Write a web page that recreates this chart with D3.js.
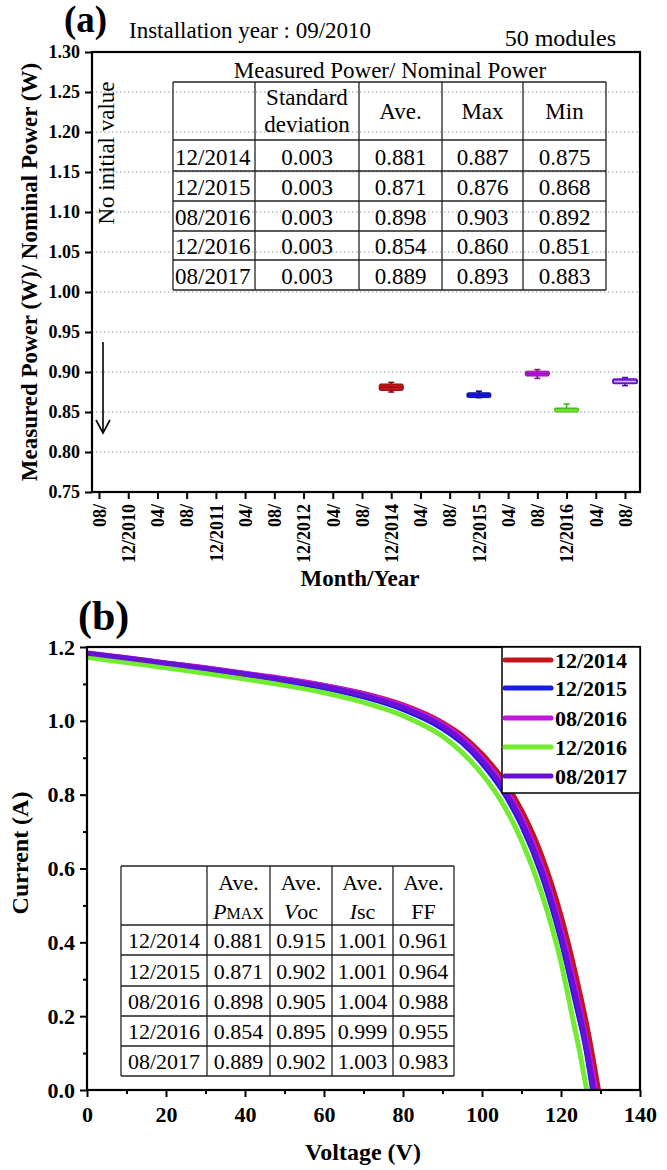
<!DOCTYPE html>
<meta charset="utf-8">
<style>
  body { margin: 0; background: #fff; }
  text { font-family: "Liberation Serif", "Times New Roman", Times, "DejaVu Serif", serif; fill: #000; }
  .tick text { font-weight: bold; }
</style>
<body>
<div id="chart"></div>
<script src="https://d3js.org/d3.v7.min.js"></script>
<script>

// ---------- panel (a) data ----------
var monthTicks = ["08/", "12/2010", "04/", "08/", "12/2011", "04/", "08/", "12/2012", "04/", "08/",
                  "12/2014", "04/", "08/", "12/2015", "04/", "08/", "12/2016", "04/", "08/"];
var powerTicks = [0.75, 0.80, 0.85, 0.90, 0.95, 1.00, 1.05, 1.10, 1.15, 1.20, 1.25, 1.30];
var surveyDates = ["12/2014", "12/2015", "08/2016", "12/2016", "08/2017"];
var surveyTick = [10, 13, 15, 16, 18];
var stdDev   = [0.003, 0.003, 0.003, 0.003, 0.003];
var avePower = [0.881, 0.871, 0.898, 0.854, 0.889];
var maxPower = [0.887, 0.876, 0.903, 0.860, 0.893];
var minPower = [0.875, 0.868, 0.892, 0.851, 0.883];
var boxLow   = [0.877, 0.868, 0.895, 0.850, 0.886];
var boxHigh  = [0.885, 0.874, 0.901, 0.855, 0.891];

// ---------- panel (b) data ----------
var voltTicks = [0, 20, 40, 60, 80, 100, 120, 140];
var currTicks = [0.0, 0.2, 0.4, 0.6, 0.8, 1.0, 1.2];
var iv2014_12 = [[0,1.182],[10,1.169],[20,1.156],[30,1.143],[40,1.128],[50,1.113],[60,1.096],[70,1.074],[80,1.043],[90,0.995],[95,0.960],[100,0.910],[105,0.846],[110,0.758],[115,0.638],[120,0.472],[124,0.300],[127,0.150],[129.5,0]];
var iv2015_12 = [[0,1.180],[10,1.167],[20,1.153],[30,1.139],[40,1.124],[50,1.108],[60,1.089],[70,1.065],[80,1.031],[90,0.979],[95,0.940],[100,0.885],[105,0.814],[110,0.717],[115,0.585],[120,0.405],[124,0.222],[126,0.128],[128,0]];
var iv2016_08 = [[0,1.184],[10,1.171],[20,1.157],[30,1.144],[40,1.129],[50,1.114],[60,1.096],[70,1.073],[80,1.041],[90,0.991],[95,0.953],[100,0.900],[105,0.832],[110,0.739],[115,0.612],[120,0.438],[124,0.260],[127,0.105],[128.8,0]];
var iv2016_12 = [[0,1.172],[10,1.158],[20,1.144],[30,1.129],[40,1.113],[50,1.096],[60,1.076],[70,1.050],[80,1.014],[90,0.958],[95,0.914],[100,0.856],[105,0.780],[110,0.676],[115,0.536],[120,0.346],[123,0.192],[125,0.088],[126.5,0]];
var iv2017_08 = [[0,1.183],[10,1.170],[20,1.156],[30,1.142],[40,1.127],[50,1.111],[60,1.093],[70,1.069],[80,1.036],[90,0.985],[95,0.946],[100,0.892],[105,0.823],[110,0.728],[115,0.598],[120,0.421],[124,0.240],[126,0.143],[128.3,0]];
var ivCurves = [iv2014_12, iv2015_12, iv2016_08, iv2016_12, iv2017_08];
var avePmax = ["0.881", "0.871", "0.898", "0.854", "0.889"];
var aveVoc  = ["0.915", "0.902", "0.905", "0.895", "0.902"];
var aveIsc  = ["1.001", "1.001", "1.004", "0.999", "1.003"];
var aveFF   = ["0.961", "0.964", "0.988", "0.955", "0.983"];

var colors   = ["#c4141c", "#1a1ae2", "#c414e0", "#72ec30", "#6812d8"];
var boxEdges = ["#8c0c10", "#0c0c9a", "#8a0c9e", "#46b018", "#4a0aa0"];

var svg = d3.select("#chart").append("svg")
    .attr("width", 667).attr("height", 1170);

function tableGrid(g, xs, ys) {
    xs.forEach(function (x) {
        g.append("line").attr("x1", x).attr("x2", x).attr("y1", ys[0]).attr("y2", ys[ys.length - 1]);
    });
    ys.forEach(function (y) {
        g.append("line").attr("x1", xs[0]).attr("x2", xs[xs.length - 1]).attr("y1", y).attr("y2", y);
    });
    g.selectAll("line").attr("stroke", "#222").attr("stroke-width", 1.3);
}

// =============== panel (a) ===============
var pa = {left: 92, right: 640, top: 52, bottom: 492};
var xa = d3.scalePoint().domain(d3.range(monthTicks.length)).range([99, 625]);
var ya = d3.scaleLinear().domain([0.75, 1.30]).range([pa.bottom, pa.top]);

var ga = svg.append("g");

// dotted grid
ga.append("g").selectAll("line")
  .data(powerTicks.filter(function (d) { return d > 0.76 && d < 1.29; }))
  .enter().append("line")
  .attr("x1", pa.left).attr("x2", pa.right)
  .attr("y1", function (d) { return ya(d); }).attr("y2", function (d) { return ya(d); })
  .attr("stroke", "#9a9a9a").attr("stroke-width", 1).attr("stroke-dasharray", "1.5,2.5");

ga.append("g")
  .attr("transform", "translate(" + pa.left + ",0)")
  .call(d3.axisLeft(ya).tickValues(powerTicks).tickFormat(d3.format(".2f")).tickSizeInner(7).tickSizeOuter(0).tickPadding(5))
  .call(function (g) { g.select(".domain").remove(); })
  .call(function (g) { g.selectAll(".tick line").attr("stroke-width", 2); })
  .call(function (g) { g.selectAll("text").attr("font-size", 18); });

ga.append("g")
  .attr("transform", "translate(0," + pa.bottom + ")")
  .call(d3.axisBottom(xa).tickFormat(function (i) { return monthTicks[i]; }).tickSizeInner(7).tickSizeOuter(0))
  .call(function (g) { g.select(".domain").remove(); })
  .call(function (g) { g.selectAll(".tick line").attr("stroke-width", 2); })
  .call(function (g) {
      g.selectAll("text")
       .attr("font-size", 18)
       .attr("transform", "rotate(-90)")
       .attr("text-anchor", "end")
       .attr("x", -12).attr("y", 0).attr("dy", "0.35em");
  });

ga.append("rect")
  .attr("x", pa.left).attr("y", pa.top)
  .attr("width", pa.right - pa.left).attr("height", pa.bottom - pa.top)
  .attr("fill", "none").attr("stroke", "#000").attr("stroke-width", 2.2);

// box plots
var boxData = surveyDates.map(function (d, i) {
    return {date: d, tick: surveyTick[i], ave: avePower[i], max: maxPower[i], min: minPower[i],
            lo: boxLow[i], hi: boxHigh[i], color: colors[i], edge: boxEdges[i], hollow: i === 4};
});
var boxes = ga.append("g").selectAll("g").data(boxData).enter().append("g")
  .attr("transform", function (d) { return "translate(" + xa(d.tick) + ",0)"; });
boxes.append("line")
  .attr("y1", function (d) { return ya(d.max); }).attr("y2", function (d) { return ya(d.min); })
  .attr("stroke", function (d) { return d.edge; }).attr("stroke-width", 1.6);
boxes.append("line").attr("x1", -3).attr("x2", 3)
  .attr("y1", function (d) { return ya(d.max); }).attr("y2", function (d) { return ya(d.max); })
  .attr("stroke", function (d) { return d.edge; }).attr("stroke-width", 1.6);
boxes.append("line").attr("x1", -3).attr("x2", 3)
  .attr("y1", function (d) { return ya(d.min); }).attr("y2", function (d) { return ya(d.min); })
  .attr("stroke", function (d) { return d.edge; }).attr("stroke-width", 1.6);
boxes.append("rect")
  .attr("x", -12).attr("width", 24)
  .attr("y", function (d) { return ya(d.hi); })
  .attr("height", function (d) { return ya(d.lo) - ya(d.hi); })
  .attr("rx", 1.5)
  .attr("fill", function (d) { return d.hollow ? "#fff" : d.color; })
  .attr("stroke", function (d) { return d.hollow ? d.color : d.edge; })
  .attr("stroke-width", function (d) { return d.hollow ? 2 : 1; });
boxes.append("line").attr("x1", -12).attr("x2", 12)
  .attr("y1", function (d) { return ya(d.ave); }).attr("y2", function (d) { return ya(d.ave); })
  .attr("stroke", function (d) { return d.hollow ? d.color : d.edge; }).attr("stroke-width", 1);

// titles
svg.append("text").attr("x", 64).attr("y", 32).attr("font-size", 37).attr("font-weight", "bold").text("(a)");
svg.append("text").attr("x", 129).attr("y", 38).attr("font-size", 23).text("Installation year : 09/2010");
svg.append("text").attr("x", 616).attr("y", 46).attr("font-size", 24).attr("text-anchor", "end").text("50 modules");
svg.append("text").attr("x", 360).attr("y", 586).attr("font-size", 23).attr("font-weight", "bold")
   .attr("text-anchor", "middle").text("Month/Year");
svg.append("text").attr("transform", "translate(37,272) rotate(-90)").attr("font-size", 23)
   .attr("font-weight", "bold").attr("text-anchor", "middle").text("Measured Power (W)/ Nominal Power (W)");

// no initial value + arrow
svg.append("text").attr("transform", "translate(114,153) rotate(-90)").attr("font-size", 23)
   .attr("text-anchor", "middle").text("No initial value");
svg.append("line").attr("x1", 103).attr("x2", 103).attr("y1", 342).attr("y2", 432)
   .attr("stroke", "#000").attr("stroke-width", 1.6);
svg.append("path").attr("d", "M96,420 L103,433 L110,420")
   .attr("fill", "none").attr("stroke", "#000").attr("stroke-width", 1.6);

// table (a)
var taX = [173, 255, 359, 442, 523, 606];
var taY = [82, 140, 171, 201, 231, 260, 290];
var ta = svg.append("g");
tableGrid(ta, taX, taY);
ta.append("text").attr("x", 390).attr("y", 78).attr("font-size", 23).attr("text-anchor", "middle")
  .text("Measured Power/ Nominal Power");
var taHead = [["Standard", "deviation"], ["Ave."], ["Max"], ["Min"]];
taHead.forEach(function (h, c) {
    var cx = (taX[c + 1] + taX[c + 2]) / 2;
    if (h.length === 2) {
        ta.append("text").attr("x", cx).attr("y", 105).attr("font-size", 23).attr("text-anchor", "middle").text(h[0]);
        ta.append("text").attr("x", cx).attr("y", 132).attr("font-size", 23).attr("text-anchor", "middle").text(h[1]);
    } else {
        ta.append("text").attr("x", cx).attr("y", 119).attr("font-size", 23).attr("text-anchor", "middle").text(h[0]);
    }
});
surveyDates.forEach(function (d, r) {
    var cells = [d, stdDev[r].toFixed(3), avePower[r].toFixed(3), maxPower[r].toFixed(3), minPower[r].toFixed(3)];
    cells.forEach(function (v, c) {
        ta.append("text")
          .attr("x", c === 0 ? taX[0] + 2 : (taX[c] + taX[c + 1]) / 2)
          .attr("y", taY[r + 2] - 6)
          .attr("font-size", 23)
          .attr("text-anchor", c === 0 ? "start" : "middle")
          .text(v);
    });
});

// =============== panel (b) ===============
var pb = {left: 87, right: 640, top: 647, bottom: 1090};
var xb = d3.scaleLinear().domain([0, 140]).range([pb.left, pb.right]);
var yb = d3.scaleLinear().domain([0, 1.2]).range([pb.bottom, pb.top]);
var gb = svg.append("g");

gb.append("g").attr("transform", "translate(0," + pb.bottom + ")")
  .call(d3.axisBottom(xb).tickValues(d3.range(10, 140, 20)).tickFormat("").tickSizeInner(4).tickSizeOuter(0))
  .call(function (g) { g.select(".domain").remove(); g.selectAll("line").attr("stroke-width", 2); });
gb.append("g").attr("transform", "translate(0," + pb.bottom + ")")
  .call(d3.axisBottom(xb).tickValues(voltTicks).tickFormat(d3.format("d")).tickSizeInner(7).tickSizeOuter(0))
  .call(function (g) {
      g.select(".domain").remove();
      g.selectAll("line").attr("stroke-width", 2);
      g.selectAll("text").attr("font-size", 22).attr("y", 32).attr("dy", 0);
  });
gb.append("g").attr("transform", "translate(" + pb.left + ",0)")
  .call(d3.axisLeft(yb).tickValues([0.1, 0.3, 0.5, 0.7, 0.9, 1.1]).tickFormat("").tickSizeInner(4).tickSizeOuter(0))
  .call(function (g) { g.select(".domain").remove(); g.selectAll("line").attr("stroke-width", 2); });
gb.append("g").attr("transform", "translate(" + pb.left + ",0)")
  .call(d3.axisLeft(yb).tickValues(currTicks).tickFormat(d3.format(".1f")).tickSizeInner(7).tickSizeOuter(0).tickPadding(5))
  .call(function (g) {
      g.select(".domain").remove();
      g.selectAll("line").attr("stroke-width", 2);
      g.selectAll("text").attr("font-size", 22);
  });

var line = d3.line()
  .x(function (d) { return xb(d[0]); })
  .y(function (d) { return yb(d[1]); })
  .curve(d3.curveMonotoneX);
gb.append("g").selectAll("path").data(ivCurves).enter().append("path")
  .attr("d", line)
  .attr("fill", "none")
  .attr("stroke", function (d, i) { return colors[i]; })
  .attr("stroke-width", 5);

gb.append("rect")
  .attr("x", pb.left).attr("y", pb.top)
  .attr("width", pb.right - pb.left).attr("height", pb.bottom - pb.top)
  .attr("fill", "none").attr("stroke", "#000").attr("stroke-width", 2.2);

// legend
var legY = [660, 688, 718, 747, 776];
var leg = gb.append("g");
leg.append("rect").attr("x", 502).attr("y", pb.top).attr("width", pb.right - 502).attr("height", 146)
   .attr("fill", "#fff").attr("stroke", "#000").attr("stroke-width", 1.5);
surveyDates.forEach(function (d, i) {
    leg.append("line").attr("x1", 505).attr("x2", 551).attr("y1", legY[i]).attr("y2", legY[i])
       .attr("stroke", colors[i]).attr("stroke-width", 5).attr("stroke-linecap", "round");
    leg.append("text").attr("x", 555).attr("y", legY[i] + 8).attr("font-size", 22)
       .attr("font-weight", "bold").text(d);
});

svg.append("text").attr("x", 78).attr("y", 630).attr("font-size", 42).attr("font-weight", "bold").text("(b)");
svg.append("text").attr("x", 363).attr("y", 1160).attr("font-size", 24).attr("font-weight", "bold")
   .attr("text-anchor", "middle").text("Voltage (V)");
svg.append("text").attr("transform", "translate(28,853) rotate(-90)").attr("font-size", 24)
   .attr("font-weight", "bold").attr("text-anchor", "middle").text("Current (A)");

// table (b)
var tbX = [121, 207, 270, 332, 393, 454];
var tbY = [866, 925, 955, 986, 1016, 1046, 1076];
var tb = svg.append("g");
tb.append("rect").attr("x", tbX[0]).attr("y", tbY[0]).attr("width", tbX[5] - tbX[0]).attr("height", tbY[6] - tbY[0]).attr("fill", "#fff");
tableGrid(tb, tbX, tbY);
var subHead = [["P", "MAX"], ["V", "oc"], ["I", "sc"], ["", "FF"]];
subHead.forEach(function (h, c) {
    var cx = (tbX[c + 1] + tbX[c + 2]) / 2;
    tb.append("text").attr("x", cx).attr("y", 890).attr("font-size", 22).attr("text-anchor", "middle").text("Ave.");
    var t = tb.append("text").attr("x", cx).attr("y", 919).attr("font-size", 22).attr("text-anchor", "middle");
    if (h[0]) t.append("tspan").attr("font-style", "italic").text(h[0]);
    t.append("tspan").attr("font-size", h[1] === "MAX" ? 16 : 22).text(h[1]);
});
surveyDates.forEach(function (d, r) {
    var cells = [d, avePmax[r], aveVoc[r], aveIsc[r], aveFF[r]];
    cells.forEach(function (v, c) {
        tb.append("text").attr("x", (tbX[c] + tbX[c + 1]) / 2).attr("y", tbY[r + 2] - 7)
          .attr("font-size", 22).attr("text-anchor", "middle").text(v);
    });
});

</script>
</body>
